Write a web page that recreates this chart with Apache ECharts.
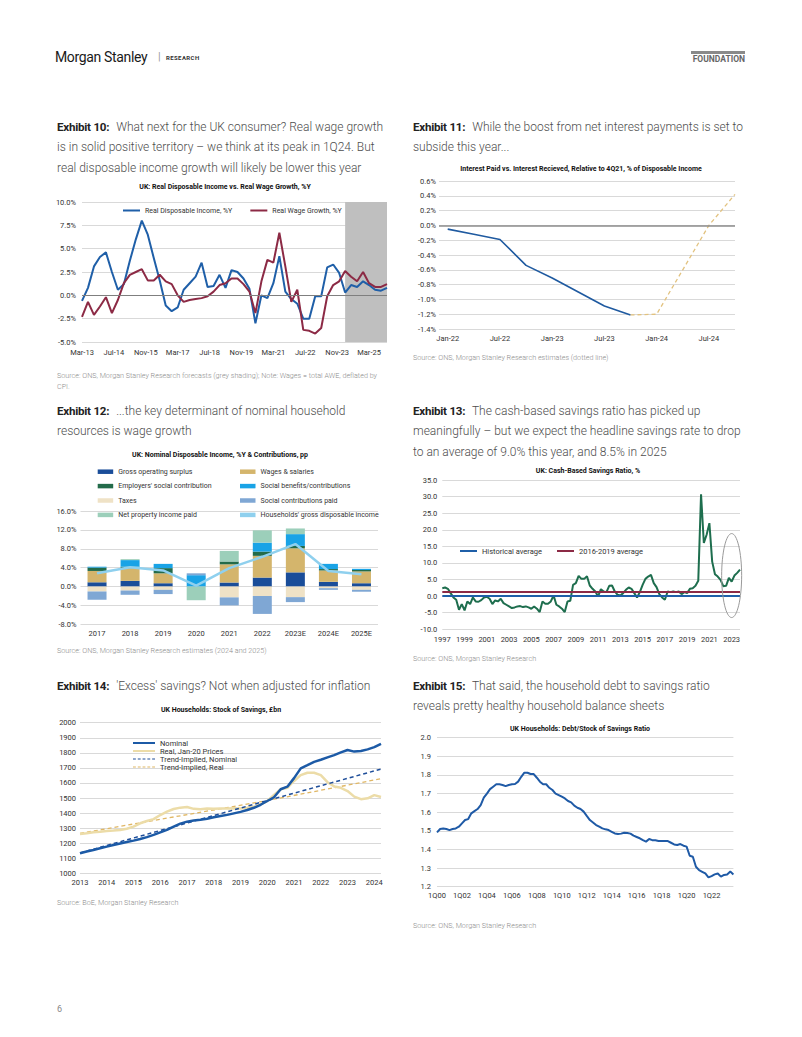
<!DOCTYPE html>
<html><head><meta charset="utf-8">
<script src="https://cdn.jsdelivr.net/npm/echarts@6/dist/echarts.min.js"></script>
<style>
body{margin:0;background:#fff;width:802px;height:1037px;position:relative;overflow:hidden;font-family:Roboto,"Noto Sans",sans-serif;}
.abs{position:absolute;white-space:nowrap;}
.cap{position:absolute;font-size:12px;line-height:20.5px;color:#4d4d4d;font-weight:300;white-space:nowrap;}
.cap b{font-weight:700;color:#222;margin-right:4px;font-size:11.6px;letter-spacing:-0.25px;}
.src{position:absolute;font-size:7.2px;line-height:10.5px;color:#8c8c8c;white-space:nowrap;font-weight:300;}
.ch{position:absolute;}
</style></head><body>
<div class="abs" style="left:55px;top:49px;font-size:14px;color:#1a1a1a;letter-spacing:-0.35px;">Morgan Stanley</div>
<div class="abs" style="left:158px;top:50px;font-size:11px;color:#999;">|</div>
<div class="abs" style="left:166px;top:54px;font-size:6px;font-weight:700;color:#333;letter-spacing:0.4px;">RESEARCH</div>
<div class="abs" style="left:691px;top:51px;width:54px;height:2.5px;background:#8a8a8a;"></div>
<div class="abs" style="right:57px;top:54px;font-size:8.5px;font-weight:700;color:#666;">FOUNDATION</div>

<div class="cap" style="left:57px;top:116.5px;"><b>Exhibit 10:</b> What next for the UK consumer? Real wage growth<br>is in solid positive territory – we think at its peak in 1Q24. But<br>real disposable income growth will likely be lower this year</div>
<div class="cap" style="left:413px;top:116.5px;"><b>Exhibit 11:</b> While the boost from net interest payments is set to<br>subside this year...</div>
<div class="src" style="left:57px;top:371px;">Source: ONS, Morgan Stanley Research forecasts (grey shading); Note: Wages = total AWE, deflated by<br>CPI.</div>
<div class="src" style="left:413px;top:353px;">Source: ONS, Morgan Stanley Research estimates (dotted line)</div>
<div class="cap" style="left:57px;top:400.5px;"><b>Exhibit 12:</b> ...the key determinant of nominal household<br>resources is wage growth</div>
<div class="cap" style="left:413px;top:400.5px;"><b>Exhibit 13:</b> The cash-based savings ratio has picked up<br>meaningfully – but we expect the headline savings rate to drop<br>to an average of 9.0% this year, and 8.5% in 2025</div>
<div class="src" style="left:57px;top:645.5px;">Source: ONS, Morgan Stanley Research estimates (2024 and 2025)</div>
<div class="src" style="left:413px;top:654px;">Source: ONS, Morgan Stanley Research</div>
<div class="cap" style="left:57px;top:675.5px;"><b>Exhibit 14:</b> 'Excess' savings? Not when adjusted for inflation</div>
<div class="cap" style="left:413px;top:675.5px;"><b>Exhibit 15:</b> That said, the household debt to savings ratio<br>reveals pretty healthy household balance sheets</div>
<div class="src" style="left:57px;top:898px;">Source: BoE, Morgan Stanley Research</div>
<div class="src" style="left:413px;top:920.5px;">Source: ONS, Morgan Stanley Research</div>
<div class="abs" style="left:57px;top:1004px;font-size:9px;color:#888;">6</div>

<div id="c10" class="ch" style="left:55px;top:175px;width:340px;height:185px;"></div>
<div id="c11" class="ch" style="left:410px;top:160px;width:340px;height:200px;"></div>
<div id="c12" class="ch" style="left:55px;top:440px;width:340px;height:220px;"></div>
<div id="c13" class="ch" style="left:410px;top:455px;width:340px;height:210px;"></div>
<div id="c14" class="ch" style="left:55px;top:695px;width:340px;height:215px;"></div>
<div id="c15" class="ch" style="left:410px;top:715px;width:340px;height:215px;"></div>

<script>
// ---------------- DATA ----------------
// Exhibit 10: quarterly, Mar-13 .. Dec-25
const c10Start = 'Mar-13';
const realDisposableIncome = [-0.6,0.8,3.1,4.1,4.6,2.5,0.6,1.2,3.7,6.0,8.0,6.5,4.0,1.6,-1.1,-1.7,-1.3,0.6,1.3,2.0,3.5,0.9,1.0,2.2,0.8,2.7,2.5,1.8,0.7,-3.0,0.0,-0.3,1.3,4.2,0.4,-0.4,-0.9,-2.5,-2.5,-0.1,-0.1,3.0,3.3,2.4,0.3,1.1,0.9,1.5,1.1,0.6,0.5,0.8];
const realWageGrowth = [-2.3,-0.7,-2.1,-1.2,-0.2,-1.9,-0.5,1.3,2.2,2.5,2.8,1.6,1.6,2.2,1.5,1.2,0.0,-0.7,-0.5,-0.4,-0.3,-0.1,0.4,1.1,1.3,1.8,1.8,1.2,0.4,-1.9,1.5,3.8,3.5,6.7,3.1,-0.7,0.6,-3.7,-3.8,-4.1,-3.5,-0.1,1.1,1.5,2.6,2.0,1.5,2.5,1.3,0.9,0.9,1.2];
const c10ForecastFrom = 'Mar-24';
const c10ForecastTo = 'Dec-25';

// Exhibit 11: quarterly (Jan/Apr/Jul/Oct)
const c11ActualStart = 'Jan-22';
const interestActual = [-0.05,-0.12,-0.19,-0.54,-0.71,-0.90,-1.09,-1.21];
const c11ForecastStart = 'Oct-23';
const interestForecast = [-1.21,-1.20,-0.60,0.00,0.42];

// Exhibit 12
const c12Years = ['2017','2018','2019','2020','2021','2022','2023E','2024E','2025E'];
const grossOperatingSurplus = [0.9,1.2,0.7,0,0.85,1.9,3.0,1.0,0.7];
const wagesSalaries = [2.4,2.7,2.1,0,3.85,4.6,5.1,2.4,2.5];
const employersSocial = [0.7,0.3,1.1,0,0.6,0.9,0.5,0.3,0.3];
const socialBenefits = [0.2,1.4,0.9,2.4,0,1.9,2.5,1.1,0.25];
const taxes = [-1.05,-0.85,-0.7,0,-2.3,-2.0,-2.25,-0.35,-0.7];
const socialContribPaid = [-1.75,-0.9,-0.9,0.4,-1.7,-3.8,-1.05,-0.35,-0.4];
const netPropertyIncome = [0,0.2,0,-2.9,2.25,2.6,1.2,0,0];
const householdsGDI = [2.8,4.1,3.4,0.2,3.9,6.3,9.0,3.3,2.6];

// Exhibit 13: quarterly 1997Q1 .. 2023Q4
const cashSavingsRatio = [
 2.4,2.6,2.2,0.9, -0.4,-1.1,-4.1,-2.4, -4.3,-1.6,-2.4,-0.4, -1.6,-1.7,-1.2,-0.4,
 -0.2,-0.8,-2.4,-1.3, -1.6,-0.8,-2.1,-2.6, -3.1,-3.6,-3.4,-3.1, -3.0,-3.3,-3.1,-3.4,
 -3.8,-3.1,-3.8,-4.8, -1.6,-2.3,-2.3,-1.6, 0.2,-2.6,-3.1,-3.8, -4.8,-1.6,-1.4,3.4,
 3.9,6.1,5.2,5.2, 6.0,3.2,2.2,1.4, -0.1,2.1,1.4,1.2, 3.1,3.2,1.4,0.4,
 0.2,0.9,1.9,2.6, 2.2,0.9,-0.4,1.2, 3.4,5.2,5.9,6.4, 3.9,2.7,0.6,-0.4,
 -1.1,1.4,1.2,1.4, 1.2,1.4,0.6,1.2, 0.9,2.2,2.4,3.1, 4.6,30.7,16.0,18.5,
 22.0,10.4,6.6,5.9, 4.9,3.0,3.1,5.5, 4.4,6.2,7.0,8.0];
const historicalAverage = 0.1;
const avg2016to2019 = 1.4;
const highlightCentre = ['2023Q1', 6.2];

// Exhibit 14: quarterly points Jan-13 .. Apr-24
const stockNominal = [1133,1145,1155,1166, 1177,1188,1198,1208, 1217,1228,1240,1255, 1272,1288,1310,1330,
 1343,1350,1355,1362, 1372,1380,1388,1398, 1408,1420,1435,1455, 1480,1505,1558,1575,
 1632,1697,1718,1740, 1754,1770,1785,1803, 1819,1808,1812,1823, 1838,1860];
const stockReal = [1261,1266,1272,1276, 1281,1284,1288,1296, 1310,1332,1347,1360, 1387,1409,1427,1436,
 1440,1428,1425,1431, 1429,1430,1431,1432, 1431,1436,1442,1458, 1480,1520,1558,1568,
 1613,1652,1668,1668, 1652,1605,1577,1568, 1546,1509,1492,1498, 1519,1507];
const trendDates = ['Jan-13','Jan-20','Apr-24'];
const trendNominal = [1135,1483,1692];
const trendReal = [1265,1483,1628];

// Exhibit 15: quarterly 1Q00 .. 4Q23
const debtToSavings = [
 1.492,1.51,1.513,1.51, 1.504,1.51,1.513,1.522, 1.54,1.558,1.563,1.594, 1.606,1.617,1.638,1.678,
 1.70,1.724,1.737,1.75, 1.75,1.746,1.74,1.746, 1.75,1.751,1.764,1.79, 1.812,1.812,1.805,1.805,
 1.785,1.764,1.75,1.75, 1.731,1.719,1.70,1.692, 1.683,1.674,1.66,1.653, 1.635,1.624,1.617,1.603,
 1.58,1.558,1.545,1.531, 1.522,1.513,1.508,1.504, 1.495,1.486,1.483,1.485, 1.49,1.488,1.485,1.474,
 1.467,1.46,1.45,1.442, 1.456,1.45,1.449,1.445, 1.445,1.445,1.445,1.436, 1.427,1.424,1.429,1.42,
 1.415,1.366,1.361,1.307, 1.289,1.28,1.271,1.25, 1.257,1.266,1.271,1.254, 1.263,1.266,1.281,1.266];

// ---------------- HELPERS ----------------
const CF = 'Roboto,"Noto Sans",sans-serif';
const MON = ['Jan','Feb','Mar','Apr','May','Jun','Jul','Aug','Sep','Oct','Nov','Dec'];
function monthRange(y0,m0,y1,m1){const o=[];let y=y0,m=m0;while(y<y1||(y===y1&&m<=m1)){o.push(MON[m]+'-'+String(y%100).padStart(2,'0'));m++;if(m>11){m=0;y++;}}return o;}
function place(cats,startName,step,vals){const a=cats.map(()=>null);const s=cats.indexOf(startName);vals.forEach((v,i)=>{a[s+i*step]=v;});return a;}
function placeAt(cats,names,vals){const a=cats.map(()=>null);names.forEach((n,i)=>{a[cats.indexOf(n)]=vals[i];});return a;}
function mk(id){return echarts.init(document.getElementById(id),null,{renderer:'svg'});}
const lbl = (o)=>Object.assign({color:'#333',fontSize:7.5,fontFamily:CF},o||{});
const split = {show:true,lineStyle:{color:'#d9d9d9',width:1}};
const DASH = 'path://M0 0H3V1H0Z M5 0H8V1H5Z M10 0H13V1H10Z M15 0H18V1H15Z M20 0H23V1H20Z';
function ttl(text,x,y){return {type:'text',x:x,y:y,style:{text:text,fill:'#111',fontSize:7,fontWeight:'bold',fontFamily:CF,align:'center',verticalAlign:'middle'}};}
function zeroLine(color,width){return {silent:true,symbol:['none','none'],label:{show:false},lineStyle:{color:color,width:width,type:'solid'},emphasis:{disabled:true},data:[{yAxis:0}]};}
const pct1 = v=>v.toFixed(1)+'%';

// ---------------- EXHIBIT 10 ----------------
(function(){
 const cats = monthRange(2013,2,2025,11);
 const c = mk('c10');
 c.setOption({
  animation:false,
  graphic:[ttl('UK: Real Disposable Income vs. Real Wage Growth, %Y',170,11.5)],
  legend:{left:68,top:32,padding:0,icon:'rect',itemWidth:17,itemHeight:2,itemGap:18,textStyle:lbl({fontSize:7}),data:['Real Disposable Income, %Y','Real Wage Growth, %Y']},
  grid:{left:27,right:8,top:27,bottom:18,outerBoundsMode:'none'},
  xAxis:{type:'category',data:cats,boundaryGap:false,axisLine:{show:false,onZero:false},axisTick:{show:false},
   axisLabel:lbl({interval:(i)=>i%16===0,margin:6}),splitLine:{show:false}},
  yAxis:{type:'value',min:-5,max:10,interval:2.5,axisLabel:lbl({formatter:pct1,margin:6}),splitLine:split,axisLine:{show:false},axisTick:{show:false}},
  series:[
   {type:'line',name:'shade',data:[],z:1,silent:true,markArea:{silent:true,itemStyle:{color:'#bfbfbf'},data:[[{xAxis:c10ForecastFrom},{xAxis:c10ForecastTo}]]},markLine:zeroLine('#7f7f7f',1)},
   {type:'line',name:'Real Disposable Income, %Y',data:place(cats,c10Start,3,realDisposableIncome),connectNulls:true,symbol:'none',color:'#1f5fa8',lineStyle:{color:'#1f5fa8',width:2},z:3},
   {type:'line',name:'Real Wage Growth, %Y',data:place(cats,c10Start,3,realWageGrowth),connectNulls:true,symbol:'none',color:'#8c2a45',lineStyle:{color:'#8c2a45',width:2},z:3}
  ]
 });
})();

// ---------------- EXHIBIT 11 ----------------
(function(){
 const cats = monthRange(2021,11,2024,9);
 const c = mk('c11');
 c.setOption({
  animation:false,
  graphic:[ttl('Interest Paid vs. Interest Recieved, Relative to 4Q21, % of Disposable Income',171,9)],
  grid:{left:29,right:15,top:21,bottom:31,outerBoundsMode:'none'},
  xAxis:{type:'category',data:cats,boundaryGap:false,axisLine:{show:false,onZero:false},axisTick:{show:false},
   axisLabel:lbl({interval:(i)=>(i-1)%6===0,margin:5}),splitLine:{show:false}},
  yAxis:{type:'value',min:-1.4,max:0.6,interval:0.2,axisLabel:lbl({formatter:pct1,margin:3}),splitLine:split,axisLine:{show:false},axisTick:{show:false}},
  series:[
   {type:'line',name:'Actual',data:place(cats,c11ActualStart,3,interestActual),connectNulls:true,symbol:'none',lineStyle:{color:'#1f5aa0',width:1.6},z:3,markLine:zeroLine('#8c8c8c',1.5)},
   {type:'line',name:'Estimate',data:place(cats,c11ForecastStart,3,interestForecast),connectNulls:true,symbol:'none',lineStyle:{color:'#e2c27f',width:1.3,type:[4,3]},z:3}
  ]
 });
})();

// ---------------- EXHIBIT 12 ----------------
(function(){
 const c = mk('c12');
 const cols = {gos:'#1a4d99',wag:'#d4b56c',emp:'#236b4a',ben:'#19a3e6',tax:'#efe2c6',scp:'#7fa7d4',npi:'#9ccfba',gdi:'#8fd0ee'};
 const bar = (name,data,color)=>({type:'bar',name:name,data:data,stack:'s',barWidth:19,itemStyle:{color:color},color:color});
 const legBase = {orient:'vertical',padding:0,icon:'rect',itemWidth:15.5,itemHeight:4.5,itemGap:4.4,textStyle:lbl({fontSize:7,lineHeight:10}),top:26.7};
 c.setOption({
  animation:false,
  graphic:[ttl('UK: Nominal Disposable Income, %Y & Contributions, pp',165,15)],
  legend:[
   Object.assign({left:42.7,data:['Gross operating surplus',"Employers' social contribution",'Taxes','Net property income paid']},legBase),
   Object.assign({left:185,data:['Wages & salaries','Social benefits/contributions','Social contributions paid',"Households' gross disposable income"]},legBase)
  ],
  grid:{left:25.5,right:17,top:71,bottom:35.7,outerBoundsMode:'none'},
  xAxis:{type:'category',data:c12Years,axisLine:{show:false,onZero:false},axisTick:{show:false},axisLabel:lbl({margin:5,interval:0})},
  yAxis:{type:'value',min:-8,max:16,interval:4,axisLabel:lbl({formatter:pct1,margin:4}),splitLine:split,axisLine:{show:false},axisTick:{show:false}},
  series:[
   bar('Gross operating surplus',grossOperatingSurplus,cols.gos),
   bar('Wages & salaries',wagesSalaries,cols.wag),
   bar("Employers' social contribution",employersSocial,cols.emp),
   bar('Social benefits/contributions',socialBenefits,cols.ben),
   bar('Taxes',taxes,cols.tax),
   bar('Social contributions paid',socialContribPaid,cols.scp),
   bar('Net property income paid',netPropertyIncome,cols.npi),
   {type:'line',name:"Households' gross disposable income",data:householdsGDI,symbol:'none',color:cols.gdi,lineStyle:{color:cols.gdi,width:2.5},z:5}
  ]
 });
})();

// ---------------- EXHIBIT 13 ----------------
(function(){
 const cats=[];for(let y=1997;y<=2023;y++)for(let q=1;q<=4;q++)cats.push(y+'Q'+q);
 const c = mk('c13');
 const title = ttl('UK: Cash-Based Savings Ratio, %',178,16);
 c.setOption({
  animation:false,
  graphic:[title],
  legend:{left:50,top:92,padding:0,icon:'rect',itemWidth:17,itemHeight:2,itemGap:15,textStyle:lbl({fontSize:7.5}),data:['Historical average','2016-2019 average']},
  grid:{left:32.3,right:10,top:25,bottom:35.7,outerBoundsMode:'none'},
  xAxis:{type:'category',data:cats,boundaryGap:false,axisLine:{show:false,onZero:false},axisTick:{show:false},
   axisLabel:lbl({interval:(i)=>i%8===0,margin:6,formatter:v=>v.slice(0,4)})},
  yAxis:{type:'value',min:-10,max:35,interval:5,axisLabel:lbl({formatter:v=>v.toFixed(1),margin:5}),splitLine:split,axisLine:{show:false},axisTick:{show:false}},
  series:[
   {type:'line',name:'Historical average',data:[],symbol:'none',color:'#1f5fa8',lineStyle:{color:'#1f5fa8',width:2},markLine:{silent:true,symbol:['none','none'],label:{show:false},lineStyle:{color:'#1f5fa8',width:2,type:'solid'},data:[{yAxis:historicalAverage}]},z:2},
   {type:'line',name:'2016-2019 average',data:[],symbol:'none',color:'#8c2a45',lineStyle:{color:'#8c2a45',width:2},markLine:{silent:true,symbol:['none','none'],label:{show:false},lineStyle:{color:'#8c2a45',width:2,type:'solid'},data:[{yAxis:avg2016to2019}]},z:2},
   {type:'line',name:'Cash-based savings ratio',data:cashSavingsRatio,symbol:'none',color:'#1e6e4e',lineStyle:{color:'#1e6e4e',width:2},z:4}
  ]
 });
 const p = c.convertToPixel({gridIndex:0},highlightCentre);
 c.setOption({graphic:[title,{type:'ellipse',shape:{cx:p[0],cy:p[1],rx:10,ry:42},style:{fill:'none',stroke:'#9a9a9a',lineWidth:1},z:10,silent:true}]});
})();

// ---------------- EXHIBIT 14 ----------------
(function(){
 const cats = monthRange(2013,0,2024,3);
 const c = mk('c14');
 c.setOption({
  animation:false,
  graphic:[ttl('UK Households: Stock of Savings, £bn',166,15)],
  legend:{left:78,top:44,padding:0,orient:'vertical',itemWidth:22,itemHeight:2,itemGap:0,textStyle:lbl({fontSize:7.5,lineHeight:8}),
   data:[{name:'Nominal',icon:'rect'},{name:'Real, Jan-20 Prices',icon:'rect'},{name:'Trend-Implied, Nominal',icon:DASH},{name:'Trend-Implied, Real',icon:DASH}]},
  grid:{left:25,right:14,top:27.7,bottom:36.7,outerBoundsMode:'none'},
  xAxis:{type:'category',data:cats,boundaryGap:false,axisLine:{show:false,onZero:false},axisTick:{show:false},
   axisLabel:lbl({interval:(i)=>i%12===0,margin:5,formatter:v=>'20'+v.slice(4)})},
  yAxis:{type:'value',min:1000,max:2000,interval:100,axisLabel:lbl({margin:4,formatter:v=>String(v)}),splitLine:split,axisLine:{show:false},axisTick:{show:false}},
  series:[
   {type:'line',name:'Trend-Implied, Real',data:placeAt(cats,trendDates,trendReal),connectNulls:true,symbol:'none',color:'#e0b765',lineStyle:{color:'#e0b765',width:1.3,type:[4,3]},z:2},
   {type:'line',name:'Real, Jan-20 Prices',data:place(cats,'Jan-13',3,stockReal),connectNulls:true,symbol:'none',color:'#ecdca8',lineStyle:{color:'#ecdca8',width:2.5},z:3},
   {type:'line',name:'Trend-Implied, Nominal',data:placeAt(cats,trendDates,trendNominal),connectNulls:true,symbol:'none',color:'#1f4e9a',lineStyle:{color:'#1f4e9a',width:1.5,type:[4,3]},z:4},
   {type:'line',name:'Nominal',data:place(cats,'Jan-13',3,stockNominal),connectNulls:true,symbol:'none',color:'#1c5aa6',lineStyle:{color:'#1c5aa6',width:2.5},z:5}
  ]
 });
})();

// ---------------- EXHIBIT 15 ----------------
(function(){
 const cats=[];for(let y=2000;y<=2023;y++)for(let q=1;q<=4;q++)cats.push(q+'Q'+String(y%100).padStart(2,'0'));
 const c = mk('c15');
 c.setOption({
  animation:false,
  graphic:[ttl('UK Households: Debt/Stock of Savings Ratio',170,14)],
  grid:{left:27,right:16.6,top:22.7,bottom:43.3,outerBoundsMode:'none'},
  xAxis:{type:'category',data:cats,boundaryGap:false,axisLine:{show:false,onZero:false},axisTick:{show:false},
   axisLabel:lbl({interval:(i)=>i%8===0,margin:5})},
  yAxis:{type:'value',min:1.2,max:2.0,interval:0.1,axisLabel:lbl({formatter:v=>v.toFixed(1),margin:6}),splitLine:split,axisLine:{show:false},axisTick:{show:false}},
  series:[
   {type:'line',name:'Debt/Stock of Savings',data:debtToSavings,symbol:'none',color:'#1f5aa6',lineStyle:{color:'#1f5aa6',width:2},z:3}
  ]
 });
})();
</script>
</body></html>
